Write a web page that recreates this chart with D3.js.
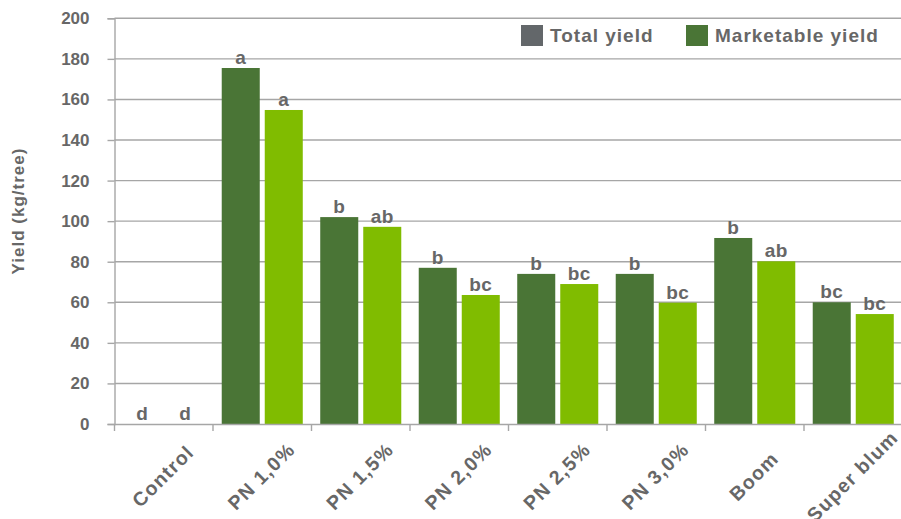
<!DOCTYPE html>
<html>
<head>
<meta charset="utf-8">
<script src="https://cdn.jsdelivr.net/npm/d3@7"></script>
<style>
  html, body { margin: 0; padding: 0; background: #ffffff; }
  svg { display: block; }
  text { font-family: "Liberation Sans", Arial, sans-serif; font-weight: bold; fill: #676767; }
</style>
</head>
<body>
<svg id="chart" width="901" height="519"></svg>
<script>
const categories = ["Control", "PN 1,0%", "PN 1,5%", "PN 2,0%", "PN 2,5%", "PN 3,0%", "Boom", "Super blum"];
const seriesNames = ["Total yield", "Marketable yield"];
const totalYield = [0, 175.5, 102, 77, 74, 74, 91.7, 60];
const marketableYield = [0, 154.8, 97.2, 63.6, 69, 59.8, 80.2, 54.2];
const totalLetters = ["d", "a", "b", "b", "b", "b", "b", "bc"];
const marketableLetters = ["d", "a", "ab", "bc", "bc", "bc", "ab", "bc"];
const yTicks = [0, 20, 40, 60, 80, 100, 120, 140, 160, 180, 200];

(function () {
const barColors = ["#4a7536", "#80bc00"];
const legendColors = ["#63676a", "#4a7536"];
const gridColor = "#a6a6a6";

const svg = d3.select("#chart");
const pLeft = 114.5, pRight = 902.5, pTop = 18.3, pBottom = 424;

const x = d3.scaleBand().domain(categories).range([pLeft, pRight]).padding(0);
const xs = d3.scaleBand().domain(seriesNames).range([0, x.bandwidth()])
  .paddingInner(0.116).paddingOuter(0.203);
const y = d3.scaleLinear().domain([0, 200]).range([pBottom, pTop]);

// gridlines
svg.append("g").selectAll("line").data(yTicks.filter(t => t > 0)).join("line")
  .attr("x1", pLeft).attr("x2", 901)
  .attr("y1", d => y(d)).attr("y2", d => y(d))
  .attr("stroke", gridColor).attr("stroke-width", 1.4);

// y axis
const yAxis = d3.axisLeft(y).tickValues(yTicks).tickSize(7).tickPadding(18);
const gy = svg.append("g").attr("transform", `translate(${pLeft},0)`).call(yAxis);
gy.select(".domain").attr("stroke", gridColor).attr("stroke-width", 1.4);
gy.selectAll(".tick line").attr("stroke", gridColor).attr("stroke-width", 1.4);
gy.selectAll(".tick text").style("font-size", "17px").attr("fill", "#676767")
  .style("font-family", "Liberation Sans, Arial, sans-serif").style("font-weight", "bold");

// bars
const data = categories.map((c, i) => ({
  cat: c,
  vals: [
    { s: seriesNames[0], v: totalYield[i], l: totalLetters[i] },
    { s: seriesNames[1], v: marketableYield[i], l: marketableLetters[i] }
  ]
}));

const groups = svg.append("g").selectAll("g").data(data).join("g")
  .attr("transform", d => `translate(${x(d.cat)},0)`);

groups.selectAll("rect").data(d => d.vals).join("rect")
  .attr("x", d => xs(d.s))
  .attr("width", xs.bandwidth())
  .attr("y", d => y(d.v))
  .attr("height", d => pBottom - y(d.v))
  .attr("fill", (d, i) => barColors[i]);

groups.selectAll("text.lbl").data(d => d.vals).join("text")
  .attr("class", "lbl")
  .attr("x", d => xs(d.s) + xs.bandwidth() / 2)
  .attr("y", d => y(d.v) - 4)
  .attr("text-anchor", "middle")
  .style("font-size", "19px")
  .style("letter-spacing", "0.5px")
  .text(d => d.l);

// x axis
const xAxis = d3.axisBottom(x).tickSize(0).tickFormat("");
const gx = svg.append("g").attr("transform", `translate(0,${pBottom})`).call(xAxis);
gx.select(".domain").attr("stroke", gridColor).attr("stroke-width", 1.4);
gx.selectAll(".tick").remove();
svg.append("g").selectAll("line").data(categories).join("line")
  .attr("x1", d => x(d)).attr("x2", d => x(d))
  .attr("y1", pBottom).attr("y2", pBottom + 7)
  .attr("stroke", gridColor).attr("stroke-width", 1.4);

// category labels
svg.append("g").selectAll("text").data(categories).join("text")
  .attr("text-anchor", "middle")
  .attr("transform", d => `translate(${x(d) + x.bandwidth() / 2 + 4},${pBottom + 57}) rotate(-45)`)
  .style("font-size", "19.5px")
  .style("letter-spacing", "1.2px")
  .text(d => d);

// y axis title
svg.append("text")
  .attr("transform", `translate(24,211) rotate(-90)`)
  .attr("text-anchor", "middle")
  .style("font-size", "17px")
  .style("letter-spacing", "1px")
  .text("Yield (kg/tree)");

// legend
const legendX = [521, 686];
const lg = svg.append("g").selectAll("g").data(seriesNames).join("g")
  .attr("transform", (d, i) => `translate(${legendX[i]},25)`);
lg.append("rect").attr("width", 22).attr("height", 21).attr("fill", (d, i) => legendColors[i]);
lg.append("text").attr("x", 29).attr("y", 17)
  .style("font-size", "19px").style("letter-spacing", "1px")
  .text(d => d);
})();
</script>
</body>
</html>
